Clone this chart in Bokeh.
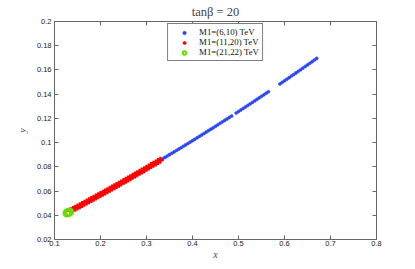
from bokeh.plotting import figure
from bokeh.models import LinearAxis, FixedTicker, Range1d, Legend, LegendItem
from bokeh.embed import file_html
from bokeh.resources import INLINE

# ---- data ----
blue_x = [0.335, 0.340, 0.345, 0.350, 0.355, 0.360, 0.365, 0.370, 0.375, 0.380,
          0.385, 0.390, 0.395, 0.400, 0.405, 0.410, 0.415, 0.420, 0.425, 0.430,
          0.435, 0.440, 0.445, 0.450, 0.455, 0.460, 0.465, 0.470, 0.475, 0.480,
          0.485,
          0.495, 0.500, 0.505, 0.510, 0.515, 0.520, 0.525, 0.530, 0.535, 0.540,
          0.545, 0.550, 0.555, 0.560, 0.565,
          0.590, 0.595, 0.600, 0.605, 0.610, 0.615, 0.620, 0.625, 0.630, 0.635,
          0.640, 0.645, 0.650, 0.655, 0.660, 0.665, 0.670]
blue_y = [0.08663, 0.08777, 0.08890, 0.09004, 0.09119, 0.09233, 0.09348, 0.09464, 0.09579, 0.09695,
          0.09812, 0.09928, 0.10045, 0.10162, 0.10280, 0.10398, 0.10516, 0.10634, 0.10753, 0.10872,
          0.10991, 0.11111, 0.11231, 0.11351, 0.11472, 0.11593, 0.11714, 0.11835, 0.11957, 0.12080,
          0.12202,
          0.12448, 0.12571, 0.12695, 0.12819, 0.12943, 0.13068, 0.13193, 0.13318, 0.13444, 0.13570,
          0.13696, 0.13822, 0.13949, 0.14077, 0.14204,
          0.14846, 0.14975, 0.15105, 0.15235, 0.15365, 0.15496, 0.15627, 0.15758, 0.15889, 0.16021,
          0.16153, 0.16286, 0.16418, 0.16551, 0.16685, 0.16819, 0.16953]

red_x = [0.135, 0.140, 0.145, 0.150, 0.155, 0.160, 0.165, 0.170, 0.175, 0.180,
         0.185, 0.190, 0.195, 0.200, 0.205, 0.210, 0.215, 0.220, 0.225, 0.230,
         0.235, 0.240, 0.245, 0.250, 0.255, 0.260, 0.265, 0.270, 0.275, 0.280,
         0.285, 0.290, 0.295, 0.300, 0.305, 0.310, 0.315, 0.320, 0.325, 0.330]
red_y = [0.04380, 0.04481, 0.04582, 0.04684, 0.04786, 0.04888, 0.04991, 0.05093, 0.05197, 0.05300,
         0.05404, 0.05508, 0.05612, 0.05717, 0.05822, 0.05927, 0.06033, 0.06139, 0.06245, 0.06352,
         0.06459, 0.06566, 0.06674, 0.06781, 0.06890, 0.06998, 0.07107, 0.07216, 0.07325, 0.07435,
         0.07545, 0.07655, 0.07766, 0.07877, 0.07988, 0.08100, 0.08212, 0.08324, 0.08436, 0.08550]

green_x = [0.127, 0.130, 0.133]
green_y = [0.0418, 0.0422, 0.0428]

x_ticks = [0.1, 0.2, 0.3, 0.4, 0.5, 0.6, 0.7, 0.8]
y_ticks = [0.02, 0.04, 0.06, 0.08, 0.1, 0.12, 0.14, 0.16, 0.18, 0.2]
y_tick_labels = ["0.02", "0.04", "0.06", "0.08", "0.1", "0.12", "0.14", "0.16", "0.18", "0.2"]
legend_labels = ["M1=(6,10) TeV", "M1=(11,20) TeV", "M1=(21,22) TeV"]
title_text = "tan\u03b2 = 20"

AXIS_COLOR = "#666666"
TICK_FONT = "Liberation Sans"
SERIF = "Liberation Serif"

p = figure(width=414, height=268, output_backend="svg", toolbar_location=None,
           x_range=Range1d(0.1, 0.8), y_range=Range1d(0.02, 0.2),
           x_axis_location=None, y_axis_location=None,
           min_border_left=54, min_border_right=38, min_border_top=20, min_border_bottom=29)
p.grid.visible = False
p.outline_line_color = None
p.background_fill_color = "white"

p.title.text = title_text
p.title.align = "center"
p.title.text_font = SERIF
p.title.text_font_style = "normal"
p.title.text_font_size = "12.5px"
p.title.standoff = 5
p.title.offset = 0


def style_axis(ax, labels=True, standoff=3):
    ax.axis_line_color = AXIS_COLOR
    ax.axis_line_width = 1
    ax.major_tick_line_color = AXIS_COLOR
    ax.major_tick_in = 4
    ax.major_tick_out = 0
    ax.minor_tick_line_color = None
    if labels:
        ax.major_label_text_font = TICK_FONT
        ax.major_label_text_font_size = "7.5px"
        ax.major_label_text_color = "#1a1a1a"
        ax.major_label_standoff = standoff
    else:
        ax.major_label_text_color = None
        ax.major_label_text_font_size = "1px"
        ax.major_label_standoff = 0


xb = LinearAxis(ticker=FixedTicker(ticks=x_ticks), axis_label="x")
style_axis(xb, standoff=1)
xb.axis_label_text_font = SERIF
xb.axis_label_text_font_style = "italic"
xb.axis_label_text_font_size = "10px"
xb.axis_label_standoff = 0
p.add_layout(xb, "below")

yl = LinearAxis(ticker=FixedTicker(ticks=y_ticks), axis_label="y")
style_axis(yl, standoff=3)
yl.major_label_overrides = {t: s for t, s in zip(y_ticks, y_tick_labels)}
yl.axis_label_text_font = SERIF
yl.axis_label_text_font_style = "italic"
yl.axis_label_text_font_size = "10px"
yl.axis_label_standoff = 6
p.add_layout(yl, "left")

xt = LinearAxis(ticker=FixedTicker(ticks=x_ticks))
style_axis(xt, labels=False)
p.add_layout(xt, "above")

yr = LinearAxis(ticker=FixedTicker(ticks=y_ticks))
style_axis(yr, labels=False)
p.add_layout(yr, "right")

rb = p.scatter(blue_x, blue_y, marker="circle", size=3.1, fill_color="#2a45f5",
               line_color="#2a45f5", line_width=0.5)
rr = p.scatter(red_x, red_y, marker="cross", size=7, line_color="#ff0000", line_width=2.2)
rg = p.scatter(green_x, green_y, marker="circle", size=7, fill_color=None,
               line_color="#66dd00", line_width=2)

legend = Legend(items=[LegendItem(label=legend_labels[0], renderers=[rb]),
                       LegendItem(label=legend_labels[1], renderers=[rr]),
                       LegendItem(label=legend_labels[2], renderers=[rg])],
                location="top_center", orientation="vertical")
legend.margin = 2
legend.padding = 3
legend.spacing = 0
legend.glyph_width = 26
legend.glyph_height = 9
legend.label_height = 9
legend.label_standoff = 2
legend.label_text_font = SERIF
legend.label_text_font_size = "8.8px"
legend.label_text_color = "#111111"
legend.border_line_color = "black"
legend.border_line_width = 1
legend.background_fill_color = "white"
legend.background_fill_alpha = 1
p.add_layout(legend, "center")

open("out.html", "w").write(file_html(p, INLINE))
